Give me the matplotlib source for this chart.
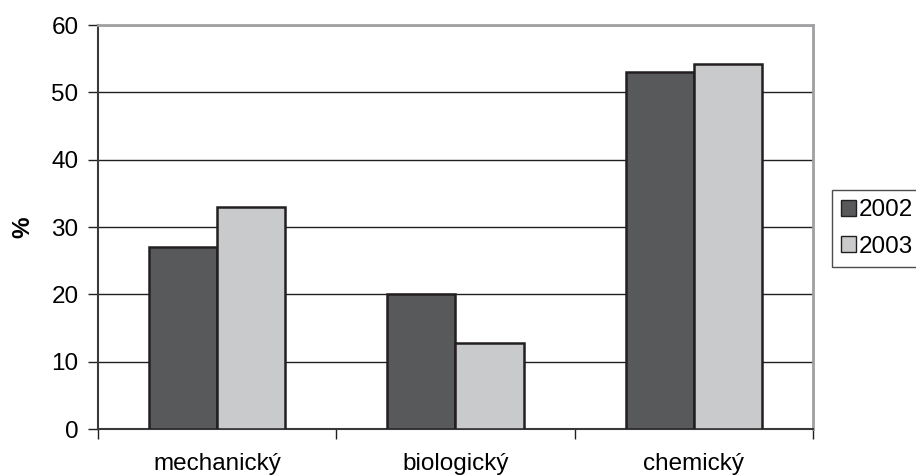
import numpy as np
import matplotlib.pyplot as plt

categories = ['mechanický', 'biologický', 'chemický']
years = ['2002', '2003']
values_2002 = [27.0, 20.0, 53.0]
values_2003 = [33.0, 12.8, 54.2]

plt.rcParams['font.family'] = ['Liberation Sans', 'DejaVu Sans']
fs = 17.5

fig = plt.figure(figsize=(9.16, 4.76), dpi=100)
ax = fig.add_axes([98 / 916, 47 / 476, 715 / 916, 404 / 476])

x = np.arange(len(categories))
width = 1 / 3.5
edge = '#231f20'
ax.bar(x - width / 2, values_2002, width, color='#58595b', edgecolor=edge,
       linewidth=1.8, label=years[0], zorder=3)
ax.bar(x + width / 2, values_2003, width, color='#c9cacc', edgecolor=edge,
       linewidth=1.8, label=years[1], zorder=3)

ax.set_xlim(-0.5, len(categories) - 0.5)
ax.set_ylim(0, 60)
ax.set_yticks(range(0, 61, 10))
ax.yaxis.grid(True, color='#231f20', linewidth=1.0, zorder=0)

# category ticks sit on the boundaries, labels in the middle
ax.set_xticks(np.arange(len(categories) + 1) - 0.5)
ax.set_xticklabels([])
ax.set_xticks(x, minor=True)
ax.set_xticklabels(categories, minor=True)
ax.tick_params(axis='x', which='minor', length=0, pad=17, labelsize=fs)
ax.tick_params(axis='x', which='major', length=7, width=1, color=edge)
ax.tick_params(axis='y', length=7, width=1, color=edge, labelsize=fs, pad=7)

for side in ['top', 'right']:
    ax.spines[side].set_color('#a0a0a2')
    ax.spines[side].set_linewidth(2)
for side in ['left', 'bottom']:
    ax.spines[side].set_color('#3a3a3c')
    ax.spines[side].set_linewidth(1.5)

fig.text(23 / 916, 1 - 227 / 476, '%', rotation=90, fontsize=fs,
         fontweight='bold', ha='center', va='center')

leg = ax.legend(loc='upper left', bbox_to_anchor=(832 / 916, 1 - 190 / 476),
                bbox_transform=fig.transFigure, frameon=True, fancybox=False,
                fontsize=fs, handlelength=0.62, handleheight=0.62,
                handletextpad=0.12, borderpad=0.38, labelspacing=0.6,
                borderaxespad=0)
leg.get_frame().set_edgecolor(edge)
leg.get_frame().set_linewidth(1.0)
for h in leg.legend_handles:
    h.set_linewidth(1.0)

fig.savefig('out.png', dpi=100)
